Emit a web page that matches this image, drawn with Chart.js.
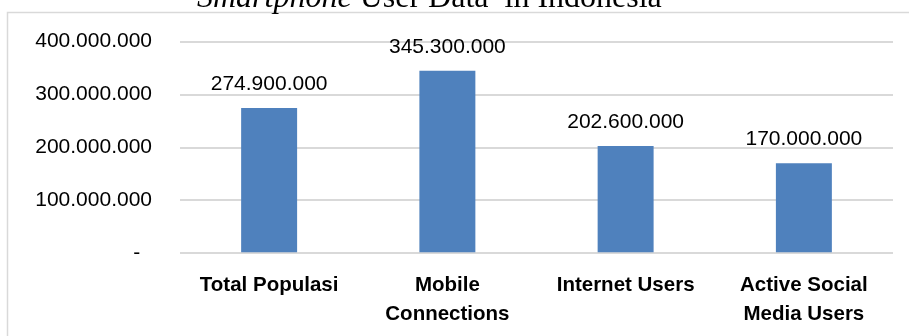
<!DOCTYPE html>
<html>
<head>
<meta charset="utf-8">
<title>Smartphone User Data in Indonesia</title>
<script src="https://cdn.jsdelivr.net/npm/chart.js@4"></script>
<style>
  html, body { margin: 0; padding: 0; background: #fff; }
  #wrap { width: 909px; height: 336px; position: relative; overflow: hidden; }
</style>
</head>
<body>
<div id="wrap"><canvas id="grafica" width="909" height="336"></canvas></div>
<script>
// Datos del gráfico
const categorias = [
    ['Total Populasi'],
    ['Mobile', 'Connections'],
    ['Internet Users'],
    ['Active Social', 'Media Users']
];
const valores = [274900000, 345300000, 202600000, 170000000];
const ticksY = [0, 100000000, 200000000, 300000000, 400000000];

// formato con puntos: 274.900.000
function formatoPuntos(n) {
    return String(Math.round(n)).replace(/\B(?=(\d{3})+(?!\d))/g, '.');
}

// borde + título (cortado arriba, como en el original)
const marcoTitulo = {
    id: 'marcoTitulo',
    beforeDraw(chart) {
        const ctx = chart.ctx;
        ctx.save();
        ctx.strokeStyle = '#d9d9d9';
        ctx.lineWidth = 1.5;
        ctx.strokeRect(7.5, 12.5, 1000, 400);
        ctx.restore();
    },
    afterDraw(chart) {
        const ctx = chart.ctx;
        ctx.save();
        ctx.fillStyle = '#000';
        ctx.textBaseline = 'alphabetic';
        ctx.textAlign = 'left';
        let x = 197;
        const y = 6.5;
        ctx.font = 'italic 32px "Liberation Serif", "Times New Roman", serif';
        ctx.fillText('Smartphone', x, y);
        x += ctx.measureText('Smartphone').width;
        ctx.font = '32px "Liberation Serif", "Times New Roman", serif';
        ctx.fillText(' User Data  in Indonesia', x, y);
        ctx.restore();
    }
};

// etiquetas de valor encima de cada barra
const etiquetasValor = {
    id: 'etiquetasValor',
    afterDatasetsDraw(chart) {
        const ctx = chart.ctx;
        const meta = chart.getDatasetMeta(0);
        ctx.save();
        ctx.font = '21px "Liberation Sans", Arial, sans-serif';
        ctx.fillStyle = '#000';
        ctx.textAlign = 'center';
        ctx.textBaseline = 'alphabetic';
        meta.data.forEach((bar, i) => {
            ctx.fillText(formatoPuntos(valores[i]), bar.x, bar.y - 18);
        });
        ctx.restore();
    }
};

new Chart(document.getElementById('grafica'), {
    type: 'bar',
    data: {
        labels: categorias,
        datasets: [{
            data: valores,
            backgroundColor: '#4f81bd',
            borderWidth: 0,
            categoryPercentage: 1,
            barPercentage: 0.314
        }]
    },
    options: {
        responsive: false,
        animation: false,
        events: [],
        layout: { padding: { top: 41.7, right: 16, left: 0, bottom: 0 } },
        plugins: {
            legend: { display: false },
            tooltip: { enabled: false },
            title: { display: false }
        },
        scales: {
            x: {
                grid: { display: false },
                border: { display: false },
                ticks: {
                    color: '#000',
                    padding: 10,
                    maxRotation: 0,
                    autoSkip: false,
                    font: { family: '"Liberation Sans", Arial, sans-serif', size: 20.5, weight: 'bold', lineHeight: '29px' }
                },
                afterFit(s) { s.height = 336 - 253.3; }
            },
            y: {
                min: 0,
                max: 400000000,
                afterBuildTicks(s) { s.ticks = ticksY.map(v => ({ value: v })); },
                grid: { color: '#d9d9d9', lineWidth: 2, drawTicks: false },
                border: { display: false },
                ticks: {
                    color: '#000',
                    padding: 28,
                    font: { family: '"Liberation Sans", Arial, sans-serif', size: 21 },
                    callback: (v) => v === 0 ? '-  ' : formatoPuntos(v)
                },
                afterFit(s) { s.width = 180; }
            }
        }
    },
    plugins: [marcoTitulo, etiquetasValor]
});
</script>
</body>
</html>
